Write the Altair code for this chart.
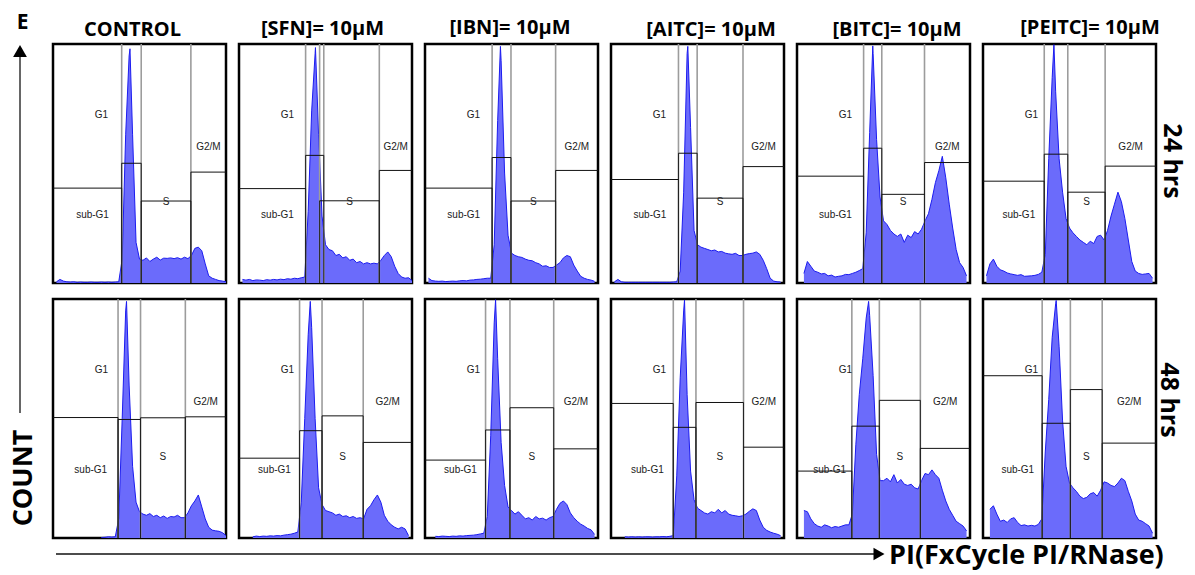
import altair as alt
import pandas as pd

# ---------------- data ----------------
CHANNEL = list(range(0, 101, 2))          # PI channel (0-100 scaled), step 2

TREATMENTS = ["CONTROL", "[SFN]= 10μM", "[IBN]= 10μM", "[AITC]= 10μM", "[BITC]= 10μM", "[PEITC]= 10μM"]
TIMES = ["24 hrs", "48 hrs"]

CONTROL_24 = [0, 0.5, 1.5, 0.8, 0.5, 0.4, 0.5, 0.3, 0.4, 0.3,
              0.3, 0.4, 0.3, 0.3, 0.4, 0.3, 0.4, 0.3, 0.4, 0.5,
              10, 62, 95, 62, 17, 10, 9.5, 10.5, 9, 10,
              10.8, 9.6, 10.4, 10.3, 10.5, 10.2, 10.6, 10, 10.8, 10.2,
              11.5, 14.5, 15, 13.5, 8, 3, 2, 1.5, 1, 0.8,
              0.5]
SFN_24 = [0, 1.5, 1.2, 1.5, 1, 1.3, 1.2, 1, 1.4, 1.2,
          1.5, 1.3, 1.6, 1.4, 1.8, 1.6, 2, 1.8, 2.2, 2.5,
          30, 72, 96, 62, 28, 16, 14, 13.5, 11.5, 12,
          10.5, 11, 9.5, 10, 8.5, 9, 8, 8.5, 8, 8.3,
          8, 9.5, 11.5, 13, 11, 7, 4, 2.5, 2, 2.2,
          1]
IBN_24 = [0, 2, 1, 0.8, 0.7, 0.8, 0.6, 0.7, 0.8, 0.7,
          0.9, 1, 0.9, 1.2, 1.3, 1.5, 1.6, 1.8, 2, 2,
          16, 68, 93, 46, 20, 12.5, 11.5, 11, 10.7, 10,
          9.5, 9.3, 8.5, 8, 7, 7.2, 6.5, 6.5, 7.5, 8.5,
          10.5, 11.5, 11, 7.5, 5, 2.8, 2, 1.5, 1.2, 0.7,
          0]
AITC_24 = [0, 0.5, 1.5, 0.5, 0.3, 0.3, 0.3, 0.3, 0.3, 0.3,
           0.3, 0.3, 0.3, 0.3, 0.3, 0.3, 0.3, 0.3, 0.4, 0.5,
           5, 38, 96, 65, 22, 16, 15, 14.5, 14, 13.5,
           13.8, 13, 13.2, 12.5, 12.2, 12, 12.4, 11.5, 11.5, 12,
           12.3, 12.5, 13, 12, 9.5, 6, 2, 0.8, 0.5, 0.4,
           0]
BITC_24 = [0, 0, 4, 9, 7, 5, 4.5, 3.8, 4, 3,
           3.3, 2.5, 2.8, 3, 3.6, 3.5, 4, 4.5, 5.2, 6,
           21, 63, 96, 60, 36, 26, 24.5, 22, 20.5, 19.5,
           20.5, 17, 20, 19, 21.5, 20.5, 22.5, 26, 29, 35,
           42, 47, 53, 44, 33, 23, 14, 8.5, 6.5, 3,
           0]
PEITC_24 = [0, 3, 8, 10, 7, 5.5, 5, 4.2, 3.8, 3.5,
            3.2, 3.5, 2.8, 2.9, 3, 3.2, 3.6, 4.5, 12, 52,
            86, 80, 52, 38, 27, 23, 21, 19.5, 18, 17,
            16, 17.5, 16.5, 19.5, 20, 18, 22, 28, 33, 38,
            34, 27, 18, 9, 5, 4, 3.6, 3.8, 4, 2,
            0]
CONTROL_48 = [0, 0, 0, 0, 0, 0, 0, 0, 0, 0,
              0, 0, 0, 0, 0.2, 0.3, 0.5, 0.4, 0.5, 8,
              50, 95, 64, 30, 15, 11, 10, 9.5, 10.2, 9,
              9.5, 8.5, 9.2, 8.2, 9, 8.8, 9.5, 8.5, 8.5, 10.5,
              13.5, 15.5, 18, 13, 8, 4.5, 3.3, 3, 2.8, 2.2,
              1]
SFN_48 = [0, 0, 0, 0, 0.5, 0.8, 0.6, 0.8, 0.7, 0.9,
          0.8, 1, 0.9, 1.2, 1.4, 1.6, 2, 2.5, 15, 50,
          85, 88, 50, 21, 14, 11.5, 11, 10.5, 9.5, 10,
          9, 9.3, 8.5, 9, 8.2, 8.5, 8, 12, 13.5, 16,
          18, 15, 9.5, 7, 5.5, 4.5, 3.8, 4.5, 3.8, 1,
          0]
IBN_48 = [0, 0, 0, 0.7, 0.6, 0.8, 0.7, 0.6, 0.8, 0.7,
          0.9, 0.8, 1, 1.1, 1.2, 1.4, 1.7, 2, 9, 43,
          90, 75, 40, 22, 13, 11.5, 10, 11, 9.5, 8,
          8.5, 7.5, 9, 8, 8.3, 7.5, 8.5, 9, 12, 14.5,
          15.5, 14, 10.5, 8.5, 7, 5.8, 5, 4, 3.4, 1.5,
          0]
AITC_48 = [0, 0, 0, 0, 0.5, 0.4, 0.5, 0.4, 0.5, 0.4,
           0.5, 0.5, 0.4, 0.5, 0.5, 0.6, 0.5, 0.7, 1, 26,
           67, 95, 60, 28, 16, 12.5, 11.5, 10.5, 10, 11,
           10.5, 12, 10.5, 11.5, 10, 9.5, 9.3, 9, 9.3, 10,
           11.2, 12.2, 11.5, 7.5, 4.5, 3.2, 2.5, 2, 1.6, 1,
           0]
BITC_48 = [0, 0, 11.5, 11, 8, 6, 5, 4.5, 5.5, 5,
           4.3, 4.8, 4.5, 5, 5.5, 5.5, 10, 39, 60, 75,
           92, 93, 68, 35, 24, 24, 25, 23.5, 26.5, 23,
           24.5, 22.5, 22, 22.5, 21, 20.5, 24, 27, 26.5, 28.5,
           26.5, 25, 20, 15.5, 12, 9.5, 7, 6, 5, 3,
           0]
PEITC_48 = [0, 0, 12, 13.5, 10, 7, 7.5, 6.5, 8, 8.5,
            6.5, 5.2, 5.5, 5, 5.3, 5, 5.7, 8, 36, 58,
            84, 98, 80, 49, 30, 23, 21, 19.5, 17.5, 16.5,
            17, 18.5, 19, 17.5, 20, 23.5, 23, 22, 21.5, 23,
            25, 24, 19.5, 15.5, 10, 7.5, 7, 6, 5, 2,
            0]

# G1 peak apex (channel, count) for each panel, 24 hrs row then 48 hrs row
PEAK_CH = [44.5, 44.2, 43.6, 44.4, 43.8, 41.0, 42.5, 41.2, 40.8, 42.5, 41.4, 42.3]
PEAK_COUNT = [98, 98.5, 99, 99, 99.2, 99.7, 99, 99, 99.7, 99.6, 99, 99.4]

# gate markers (channel range and marker level) per panel
SUBG1_START = [0, 0, 0, 0, 0, 0, 0, 0, 0, 0, 0, 0]
SUBG1_END = [39.7, 38.5, 38.8, 39, 38.5, 35.4, 37.6, 35, 35, 36, 31.7, 34.2]
SUBG1_LEVEL = [39.7, 39.5, 39.7, 43.3, 44.7, 42.6, 50.4, 33.4, 32.6, 56.3, 28, 67.9]
G1_START = [39.7, 38.5, 38.8, 39, 38.5, 35.4, 37.6, 35, 35, 36, 31.7, 34.2]
G1_END = [51, 49, 49.7, 49.8, 49, 49, 50.6, 48, 49.1, 49.1, 47.6, 50.5]
G1_LEVEL = [50.1, 53.4, 52.5, 54.3, 56.4, 53.9, 49.6, 44.9, 45.2, 46.3, 46.8, 48]
S_START = [51, 46.6, 49.7, 49.8, 49, 49, 50.6, 48, 49.1, 49.1, 47.6, 50.5]
S_END = [79.7, 81.1, 75.5, 76.3, 73.7, 70.6, 76.5, 71.8, 74.4, 76.6, 71.3, 68.9]
S_LEVEL = [34.3, 34.4, 34.3, 35.5, 37.1, 38, 50.3, 51.1, 54.5, 56.7, 57.6, 62.1]
G2M_START = [79.7, 81.1, 75.5, 76.3, 73.7, 70.6, 76.5, 71.8, 74.4, 76.6, 71.3, 68.9]
G2M_END = [100, 100, 100, 100, 100, 100, 100, 100, 100, 100, 100, 100]
G2M_LEVEL = [46.4, 47.1, 47.1, 48.7, 50.4, 48.9, 50.7, 40, 37.3, 38, 37.5, 39.7]
GATE_NAMES = ["sub-G1", "G1", "S", "G2/M"]

HISTOGRAMS = [CONTROL_24, SFN_24, IBN_24, AITC_24, BITC_24, PEITC_24,
              CONTROL_48, SFN_48, IBN_48, AITC_48, BITC_48, PEITC_48]

# ---------------- styling ----------------
PANEL_W, PANEL_H = 173, 239
FILL = "#6b6bfb"
EDGE = "#1c1cf0"
BOLD = "Open Sans"
TITLE_DX = [-7, -3, -1.5, 13.5, 13.5, 20.5]
TITLE_DY = [20.5, 20, 18.5, 21, 21, 19.5]


def one(label):
    return pd.DataFrame({"label": [label]})


def panel(i):
    row, col = divmod(i, 6)
    xs = alt.Scale(domain=[0, 100], nice=False, zero=False)
    ys = alt.Scale(domain=[0, 100], nice=False)

    hist = pd.DataFrame({"ch": CHANNEL + [PEAK_CH[i]],
                         "count": HISTOGRAMS[i] + [PEAK_COUNT[i]]}).sort_values("ch")
    base = alt.Chart(hist).transform_filter("datum.count > 0").encode(
        x=alt.X("ch:Q", scale=xs, axis=None),
        y=alt.Y("count:Q", scale=ys, axis=None),
    )
    fill = base.mark_area(fill=FILL, fillOpacity=1, strokeWidth=0)
    edge = base.mark_line(color=EDGE, strokeWidth=1)

    gates = pd.DataFrame({
        "name": GATE_NAMES,
        "x0": [SUBG1_START[i], G1_START[i], S_START[i], G2M_START[i]],
        "x1": [SUBG1_END[i], G1_END[i], S_END[i], G2M_END[i]],
        "lvl": [SUBG1_LEVEL[i], G1_LEVEL[i], S_LEVEL[i], G2M_LEVEL[i]],
    })
    edge_rows = []
    for _, g in gates.iterrows():
        if g.x0 > 0:
            edge_rows.append({"x": g.x0, "lvl": g.lvl, "base": 0})
        if g.x1 < 100:
            edge_rows.append({"x": g.x1, "lvl": g.lvl, "base": 0})
    edges = pd.DataFrame(edge_rows)
    bounds = pd.DataFrame({"x": sorted(set(edges["x"]))})

    full = alt.Chart(bounds).mark_rule(color="#9c9c9c", strokeWidth=1.6).encode(
        x=alt.X("x:Q", scale=xs, axis=None))
    vert = alt.Chart(edges).mark_rule(color="#222222", strokeWidth=1).encode(
        x=alt.X("x:Q", scale=xs, axis=None),
        y=alt.Y("base:Q", scale=ys, axis=None), y2="lvl:Q")
    horiz = alt.Chart(gates).mark_rule(color="#111111", strokeWidth=1).encode(
        x=alt.X("x0:Q", scale=xs, axis=None), x2="x1:Q",
        y=alt.Y("lvl:Q", scale=ys, axis=None))

    lab = pd.DataFrame({
        "text": GATE_NAMES,
        "x": [(SUBG1_START[i] + SUBG1_END[i]) / 2 + 3, 28,
              (S_START[i] + S_END[i]) / 2, (G2M_START[i] + G2M_END[i]) / 2],
        "y": [28.5, 70.5, 34, 57],
    })
    labels = alt.Chart(lab).mark_text(font="Liberation Sans", fontSize=10, color="#222222").encode(
        x=alt.X("x:Q", scale=xs, axis=None),
        y=alt.Y("y:Q", scale=ys, axis=None),
        text="text:N")

    layers = [fill, edge, full, vert, horiz, labels]

    if col == 5:
        pos = (189, 117) if row == 0 else (186, 101)
        layers.append(alt.Chart(one(TIMES[row])).mark_text(
            font=BOLD, fontSize=25, fontWeight="bold", angle=90, color="black",
            align="center", baseline="middle").encode(
            x=alt.value(pos[0]), y=alt.value(pos[1]), text="label:N"))

    if i == 6:
        layers += [
            alt.Chart(one("E")).mark_text(font=BOLD, fontSize=21, fontWeight="bold", color="black",
                                          align="center", baseline="middle").encode(
                x=alt.value(-30.5), y=alt.value(-276.5), text="label:N"),
            alt.Chart(one("count axis")).mark_rule(color="#333333", strokeWidth=1.5).encode(
                x=alt.value(-33), y=alt.value(-246), y2=alt.value(114)),
            alt.Chart(one("count head")).mark_point(shape="triangle-up", filled=True, size=190,
                                                    color="black", opacity=1).encode(
                x=alt.value(-33), y=alt.value(-248)),
            alt.Chart(one("COUNT")).mark_text(font=BOLD, fontSize=27, fontWeight="bold", color="black",
                                              angle=270, align="center", baseline="middle").encode(
                x=alt.value(-29), y=alt.value(179), text="label:N"),
            alt.Chart(one("PI axis")).mark_rule(color="#111111", strokeWidth=1.5).encode(
                x=alt.value(3), x2=alt.value(822), y=alt.value(255)),
            alt.Chart(one("PI head")).mark_point(shape="triangle-right", filled=True, size=160,
                                                 color="black", opacity=1).encode(
                x=alt.value(826), y=alt.value(255)),
            alt.Chart(one("PI(FxCycle PI/RNase)")).mark_text(font=BOLD, fontSize=27, fontWeight="bold",
                                                             color="black", align="left",
                                                             baseline="middle").encode(
                x=alt.value(836), y=alt.value(257), text="label:N"),
        ]

    props = dict(width=PANEL_W, height=PANEL_H)
    if row == 0:
        props["title"] = alt.TitleParams(
            text=TREATMENTS[col], font=BOLD, fontSize=20, fontWeight="bold", color="black",
            anchor="middle", frame="group", baseline="alphabetic", offset=8,
            dx=TITLE_DX[col], dy=TITLE_DY[col])
    return alt.layer(*layers).properties(**props)


chart = alt.concat(
    *[panel(i) for i in range(12)],
    columns=6,
    spacing={"row": 16, "column": 13},
    bounds="flush",
).properties(
    padding={"left": 0, "top": 2, "right": 0, "bottom": 0},
).configure_view(
    stroke="black", strokeWidth=2.5,
)

chart.save("out.html", embed_options={"renderer": "svg", "actions": False})
